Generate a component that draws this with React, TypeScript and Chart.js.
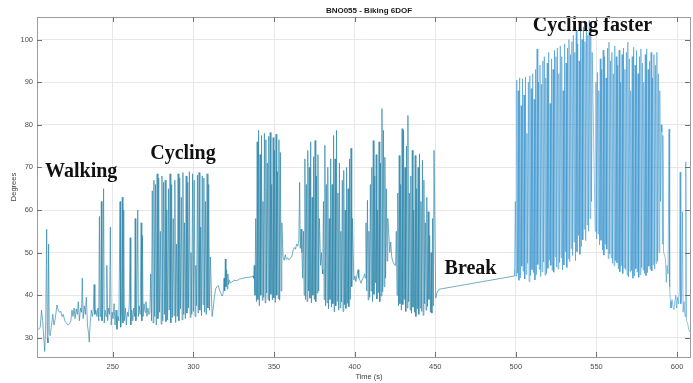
import React, { useEffect, useRef } from "react";
import { Chart, registerables } from "chart.js";

Chart.register(...registerables);

// ---- axes ----
const xTicks = [250, 300, 350, 400, 450, 500, 550, 600];
const yTicks = [30, 40, 50, 60, 70, 80, 90, 100];
const xRange = [203, 608];
const yRange = [25.5, 105.3];

// ---- annotations (time s, degrees) ----
const noteLabels = ["Walking", "Cycling", "Break", "Cycling faster"];
const noteTimes = [208, 273.2, 455.8, 510.5];
const noteDegrees = [68.9, 73.1, 46.1, 103.3];

// time from which the pace picks up
const fastFrom = 499;

// ---- irregular stretches: [time s, degrees] ----
const warmUp: [number, number][] = [
  [203, 31.8], [204, 32], [205, 32.5], [205.8, 36.5], [206.5, 34], [207.2, 30], [207.8, 26.8],
  [208.4, 33], [209.0, 55.5], [209.4, 30], [209.8, 28.8], [210.2, 52], [210.6, 31], [211.2, 30.5],
  [212, 33], [212.8, 35.5], [213.5, 33], [214.3, 34.5], [215.4, 37.7], [216.2, 36.5], [217, 36],
  [217.8, 36.2], [218.5, 35], [219.3, 35.5], [220.2, 34], [221.2, 33.5], [222.3, 33], [223.2, 33.3],
  [224, 34], [224.7, 36.5], [225.3, 35], [226, 37], [226.6, 34.5], [227.3, 36.8], [228, 35.5],
  [228.6, 38.5], [229.3, 34], [230, 37], [230.6, 36], [231.1, 44], [231.6, 34.5], [232.3, 37.5],
  [233, 35.5], [233.6, 39.5], [234.3, 33], [235, 31], [235.4, 29], [236, 33.5], [236.7, 36.5],
  [237.4, 35], [238.0, 37], [238.4, 42.5], [238.9, 35.5], [239.5, 36.5], [240.2, 35],
];

const walking: [number, number][] = [
  [240.8, 37], [241.3, 34], [241.7, 58.5], [242.1, 35], [242.5, 36], [242.9, 62], [243.3, 34],
  [243.8, 37], [244.3, 65], [244.7, 33.5], [245.2, 36.5], [245.8, 35], [246.3, 47], [246.8, 34],
  [247.4, 37], [248, 35.5], [248.5, 56], [249, 33], [249.6, 36], [250.2, 34.5], [250.8, 38],
  [251.4, 33], [252, 36.5], [252.6, 32], [253.2, 35], [253.8, 34], [254.5, 62], [254.9, 32.5],
  [255.4, 36], [255.9, 63], [256.3, 33.5], [256.8, 60], [257.2, 34], [257.8, 37], [258.4, 33],
  [259, 36], [259.6, 35], [260.2, 37.5], [260.8, 53.5], [261.2, 33], [261.8, 36.5], [262.4, 34],
  [263, 37], [263.5, 35], [263.9, 58], [264.3, 34], [264.8, 36], [265.5, 60], [265.9, 35],
  [266.4, 37.5], [267, 35.5], [267.6, 57], [268, 34], [268.4, 54], [268.8, 35], [269.4, 38],
  [270, 36], [270.6, 38.5], [271.2, 35], [271.8, 37], [272.4, 35.5],
];

const settling: [number, number][] = [
  [311.6, 35], [312.3, 37], [313, 39.5], [313.8, 41.5], [314.6, 42], [315.4, 42.3], [316.2, 41.2],
  [317, 40.5], [317.8, 39.8], [318.5, 40.5], [319, 44], [319.4, 41], [319.8, 48.5], [320.2, 42],
  [320.6, 46], [321, 41.5], [321.4, 45], [321.8, 42.5], [322.3, 43.5], [323, 42.8], [324, 43.2],
  [325.5, 43.5], [327, 43.4], [328.5, 43.8], [330, 43.9], [332, 44.1], [334, 44.2], [336, 44.3],
  [337, 44.5],
];

const plateau: [number, number][] = [
  [355.6, 49], [356.3, 48.2], [357, 49.5], [357.6, 48.4], [358.4, 48.8], [359.2, 48.3], [360, 48.7],
  [361, 49], [361.8, 50.5], [362.6, 51.2], [363.3, 50.8], [364, 52], [364.8, 51.5], [365.4, 53],
  [365.9, 66.5], [366.3, 51], [366.8, 55.5], [367.3, 50],
];

const pause1: [number, number][] = [[378.9, 47], [379.4, 50], [379.9, 46]];

const pause2: [number, number][] = [
  [399.5, 43.6], [400.2, 44.5], [400.8, 43.2], [401.5, 44.8], [402.1, 46], [402.6, 44],
  [403.3, 43.5], [404, 42.8], [404.8, 43.8], [405.5, 44.2], [406.2, 45],
];

const pause3: [number, number][] = [
  [421.3, 53.7], [421.8, 50], [422.4, 52.5], [423, 49], [423.6, 48], [424.3, 47.5], [425, 47],
];

const breakStretch: [number, number][] = [[450.3, 39.3], [451, 40.5], [452.3, 41.4], [498.9, 44.5]];

const ending: [number, number][] = [
  [590.6, 78.3], [590.9, 52], [591.2, 77.5], [591.6, 50], [592.2, 49.5], [592.8, 48.5], [593.3, 43],
  [593.8, 47], [594.4, 45], [595.0, 79], [595.4, 42], [595.8, 38.5], [596.2, 37], [596.8, 39],
  [597.4, 37.5], [598, 36.6], [598.6, 38.5], [599.2, 40], [599.6, 37], [600.2, 39.5], [600.8, 38],
  [601.4, 41], [601.9, 68.9], [602.3, 38], [602.8, 40], [603.3, 59.6], [603.7, 36], [604.3, 38.5],
  [604.9, 35], [605.4, 71.3], [605.8, 34], [606.5, 33.5], [607.2, 32], [607.8, 31.4],
];

// ---- pedalling stretches: one trough + one peak per crank cycle ----
const cycling1Start = 273, cycling1Period = 1.0;
const cycling1Peaks = [
  45, 64.5, 67, 66, 68.5, 67.5, 55, 68, 66.5, 67, 60, 65, 68.5, 66, 58, 67, 52, 68.5, 67.5, 63,
  68.8, 57, 68, 66.5, 69, 50, 68.5, 67, 47, 68.2, 68.8, 56, 68, 67.5, 62, 68.5, 66, 49,
];
const cycling1Troughs = [
  36, 34, 33.5, 35, 33, 34.5, 36, 33.2, 34, 35.5, 33.8, 34.2, 36.5, 33.5, 34.8, 35.2, 33.6, 35, 34, 36.8,
  34.2, 35.5, 34.5, 35.8, 37, 34.8, 35.5, 36.2, 35, 37.5, 35.8, 36.5, 35.2, 37.8, 36, 35.5, 37, 36.5,
];

const cycling2Start = 337.3, cycling2Period = 0.9;
const cycling2Peaks = [47, 58, 76, 78.7, 73, 77.5, 62, 78, 76.5, 71, 77.3, 78.2, 66, 77, 74, 77.8, 69, 76.5, 73.5, 57];
const cycling2Troughs = [44, 40, 38.5, 39, 37.5, 40, 38.8, 39.5, 38.2, 40.5, 39, 38.6, 40.2, 38.9, 39.4, 38.3, 40, 39.2, 38.8, 41];

const burst1Start = 367.8, burst1Period = 0.9;
const burst1Peaks = [55, 72, 66, 74, 70, 76, 63, 72.5, 76.3, 68, 73, 58];
const burst1Troughs = [44, 40, 39, 38.5, 41, 39.3, 38.2, 40, 39, 38.5, 40.5, 41];

const burst2Start = 380.2, burst2Period = 0.9;
const burst2Peaks = [62, 75.2, 66, 70, 58, 72, 66, 77.5, 72, 78.7, 64, 71, 55, 67, 69.3, 60, 70, 65, 72, 74.5, 58];
const burst2Troughs = [45, 39, 37.5, 38.2, 36.8, 39, 37.2, 38, 36.1, 37.5, 38.6, 36.5, 37, 38.4, 36.2, 37.8, 36.9, 38.1, 37.3, 39, 42];

const burst3Start = 406.6, burst3Period = 0.9;
const burst3Peaks = [57, 62.3, 55, 66, 70, 76.3, 68, 73, 60, 76, 71, 83.8, 78.7, 72.4, 65, 58];
const burst3Troughs = [44, 41, 38.9, 39.5, 41, 38.5, 40.2, 42.9, 39.1, 40.6, 38.5, 39.8, 40.8, 42, 44, 48];

const burst4Start = 425.4, burst4Period = 0.9;
const burst4Peaks = [
  55, 64, 72.8, 66, 79.1, 78.7, 70, 75, 82.2, 64, 68, 74, 60, 72.8, 65, 70, 73.2, 62, 71.7, 67,
  57, 63, 59.6, 54, 50, 58, 74,
];
const burst4Troughs = [
  47, 40, 37.5, 38, 36.5, 37.8, 39, 36.2, 37, 38.5, 36.5, 35.8, 37.2, 36, 35, 36.8, 35.5, 37, 36.2, 35.3,
  38, 36.5, 37.4, 39, 36, 35.8, 37.5,
];

const fast1Start = 499.2, fast1Period = 0.9;
const fast1Peaks = [
  62, 90.5, 88, 91, 84.5, 90.8, 87, 91.2, 78, 90,
  91.5, 88.5, 92, 86, 93, 97.8, 90, 94, 89.5, 95,
  96, 91, 94.5, 97, 85, 95.5, 93, 97.5, 96, 98,
  92, 98.5, 96, 88, 99, 94.5, 98, 100, 96.5, 99.5,
  101, 97, 102, 99, 95, 102.5, 100, 103, 99.5, 104,
  101, 104.5, 103, 97,
];
const fast1Troughs = [
  46, 44.5, 45.2, 43.5, 44.1, 46.8, 45.6, 43.8, 44.9, 47.5,
  43.2, 44.6, 46, 45.3, 43.6, 44.8, 47.2, 46.1, 44.4, 45.5,
  47.8, 44.7, 45.1, 46.3, 48.2, 47, 45.8, 45.4, 49, 46.6,
  46.2, 47.7, 48.8, 45.9, 47.1, 50.2, 46.5, 48.6, 47.9, 51,
  49.3, 52.5, 48.1, 50.2, 54, 49.6, 51.4, 53, 55.5, 52.8,
  56.5, 55, 58, 62,
];

const fast2Start = 549.2, fast2Period = 0.9;
const fast2Peaks = [
  90, 92.3, 88, 95.5, 93, 97.5, 96, 91, 98, 99.4,
  95, 97, 92, 98.5, 96, 94, 97.5, 90, 96.5, 98,
  93, 97, 99.4, 95.5, 88, 96, 98.2, 94, 97.5, 92,
  96, 97.8, 94.5, 90, 96.5, 97.8, 93, 95, 97, 91,
  96.5, 94, 97, 92, 88, 80,
];
const fast2Troughs = [
  55, 53.2, 54.4, 51.8, 52.9, 50.6, 49.4, 51.9, 50.8, 48.6,
  49.7, 48.8, 47.5, 46.9, 48.1, 47.6, 46.2, 45.5, 46.9, 45.1,
  46.4, 46, 44.7, 44.3, 45.6, 45.8, 44, 44.5, 46.2, 45.4,
  44.2, 44.8, 46.5, 45.9, 45.1, 44.6, 45.3, 46.8, 46, 45.7,
  47.2, 46.1, 47.5, 48, 50, 62,
];

type Pt = { x: number; y: number };

function fromPairs(pairs: [number, number][]): Pt[] {
  return pairs.map(([x, y]) => ({ x, y }));
}

function fromCycles(start: number, period: number, troughs: number[], peaks: number[]): Pt[] {
  const out: Pt[] = [];
  const n = Math.min(troughs.length, peaks.length);
  for (let i = 0; i < n; i++) {
    out.push({ x: start + i * period, y: troughs[i] });
    out.push({ x: start + i * period + period / 2, y: peaks[i] });
  }
  return out;
}

const orientation: Pt[] = [
  ...fromPairs(warmUp),
  ...fromPairs(walking),
  ...fromCycles(cycling1Start, cycling1Period, cycling1Troughs, cycling1Peaks),
  ...fromPairs(settling),
  ...fromCycles(cycling2Start, cycling2Period, cycling2Troughs, cycling2Peaks),
  ...fromPairs(plateau),
  ...fromCycles(burst1Start, burst1Period, burst1Troughs, burst1Peaks),
  ...fromPairs(pause1),
  ...fromCycles(burst2Start, burst2Period, burst2Troughs, burst2Peaks),
  ...fromPairs(pause2),
  ...fromCycles(burst3Start, burst3Period, burst3Troughs, burst3Peaks),
  ...fromPairs(pause3),
  ...fromCycles(burst4Start, burst4Period, burst4Troughs, burst4Peaks),
  ...fromPairs(breakStretch),
  ...fromCycles(fast1Start, fast1Period, fast1Troughs, fast1Peaks),
  ...fromCycles(fast2Start, fast2Period, fast2Troughs, fast2Peaks),
  ...fromPairs(ending),
];

const SANS = 'Arial, "Liberation Sans", Helvetica, sans-serif';
const SERIF = '"Times New Roman", "Liberation Serif", serif';

const LINE_SLOW = "rgba(42,132,168,0.78)";
const LINE_FAST = "rgba(50,144,204,0.64)";

const framePlugin = {
  id: "matlabFrame",
  afterDatasetsDraw(chart: any) {
    const { ctx, scales } = chart;
    const xs = scales.x, ys = scales.y;
    ctx.save();
    ctx.fillStyle = "#111111";
    ctx.font = `bold 20px ${SERIF}`;
    ctx.textBaseline = "middle";
    ctx.textAlign = "left";
    noteLabels.forEach((label, i) => {
      ctx.fillText(label, xs.getPixelForValue(noteTimes[i]), ys.getPixelForValue(noteDegrees[i]));
    });
    ctx.restore();
  },
  afterDraw(chart: any) {
    const { ctx, chartArea: a, scales } = chart;
    const xs = scales.x, ys = scales.y;
    ctx.save();
    ctx.strokeStyle = "#9c9c9c";
    ctx.lineWidth = 1;
    ctx.strokeRect(Math.round(a.left) + 0.5, Math.round(a.top) + 0.5, Math.round(a.right - a.left), Math.round(a.bottom - a.top));
    ctx.strokeStyle = "#707070";
    ctx.beginPath();
    const tl = 5;
    xTicks.forEach((v) => {
      const px = Math.round(xs.getPixelForValue(v)) + 0.5;
      ctx.moveTo(px, a.bottom); ctx.lineTo(px, a.bottom - tl);
      ctx.moveTo(px, a.top); ctx.lineTo(px, a.top + tl);
    });
    yTicks.forEach((v) => {
      const py = Math.round(ys.getPixelForValue(v)) + 0.5;
      ctx.moveTo(a.left, py); ctx.lineTo(a.left + tl, py);
      ctx.moveTo(a.right, py); ctx.lineTo(a.right - tl, py);
    });
    ctx.stroke();
    ctx.fillStyle = "#1a1a1a";
    ctx.textAlign = "center";
    ctx.textBaseline = "middle";
    ctx.font = `bold 8px ${SANS}`;
    ctx.fillText("BNO055 - Biking 6DOF", 369, 11);
    ctx.fillStyle = "#404040";
    ctx.font = `7.5px ${SANS}`;
    ctx.fillText("Time (s)", 369, 376.5);
    ctx.translate(14, 187);
    ctx.rotate(-Math.PI / 2);
    ctx.fillText("Degrees", 0, 0);
    ctx.restore();
  },
};

export default function App() {
  const canvasRef = useRef<HTMLCanvasElement>(null);

  useEffect(() => {
    document.body.style.margin = "0";
    const canvas = canvasRef.current;
    if (!canvas) return;
    const tickFont = { family: SANS, size: 7.5 };
    const chart = new Chart(canvas, {
      type: "line",
      data: {
        datasets: [
          {
            label: "Orientation",
            data: orientation as any,
            borderColor: LINE_SLOW,
            borderWidth: 0.85,
            pointRadius: 0,
            tension: 0,
            fill: false,
            segment: {
              borderColor: (c: any) => (c.p0.parsed.x >= fastFrom ? LINE_FAST : LINE_SLOW),
            },
          },
        ],
      },
      options: {
        animation: false,
        responsive: false,
        devicePixelRatio: 1,
        parsing: false,
        normalized: true,
        layout: { padding: { top: 17, right: 3, left: 0, bottom: 0 } },
        plugins: {
          legend: { display: false },
          tooltip: { enabled: false },
          title: { display: false },
        },
        scales: {
          x: {
            type: "linear",
            min: xRange[0],
            max: xRange[1],
            afterBuildTicks: (s: any) => {
              s.ticks = xTicks.map((v) => ({ value: v }));
            },
            afterFit: (s: any) => {
              s.height = 26;
            },
            grid: { color: "#e8e8e8", drawTicks: false, lineWidth: 1 },
            border: { display: false },
            ticks: { padding: 5, color: "#4d4d4d", font: tickFont, maxRotation: 0, autoSkip: false },
          },
          y: {
            type: "linear",
            min: yRange[0],
            max: yRange[1],
            afterBuildTicks: (s: any) => {
              s.ticks = yTicks.map((v) => ({ value: v }));
            },
            afterFit: (s: any) => {
              s.width = 37;
            },
            grid: { color: "#e8e8e8", drawTicks: false, lineWidth: 1 },
            border: { display: false },
            ticks: { padding: 4, color: "#4d4d4d", font: tickFont, autoSkip: false },
          },
        },
      },
      plugins: [framePlugin],
    } as any);
    return () => chart.destroy();
  }, []);

  return (
    <div style={{ position: "absolute", left: 0, top: 0, width: 693, height: 383, background: "#ffffff" }}>
      <canvas ref={canvasRef} width={693} height={383} style={{ display: "block", width: 693, height: 383 }} />
    </div>
  );
}
